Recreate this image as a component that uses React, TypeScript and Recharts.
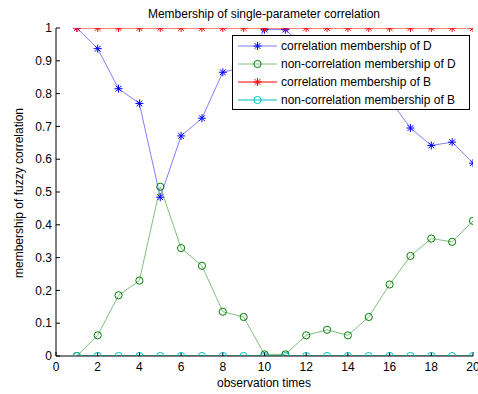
import React from 'react';
import { LineChart, Line, XAxis, YAxis, Legend } from 'recharts';

const observationTimes = [1, 2, 3, 4, 5, 6, 7, 8, 9, 10, 11, 12, 13, 14, 15, 16, 17, 18, 19, 20];
const corrMembershipD = [1, 0.937, 0.815, 0.77, 0.484, 0.671, 0.725, 0.865, 0.881, 0.995, 0.995, 0.937, 0.92, 0.937, 0.881, 0.782, 0.695, 0.642, 0.652, 0.588];
const nonCorrMembershipD = [0, 0.063, 0.185, 0.23, 0.516, 0.329, 0.275, 0.135, 0.119, 0.005, 0.005, 0.063, 0.08, 0.063, 0.119, 0.218, 0.305, 0.358, 0.348, 0.412];
const corrMembershipB = [1, 1, 1, 1, 1, 1, 1, 1, 1, 1, 1, 1, 1, 1, 1, 1, 1, 1, 1, 1];
const nonCorrMembershipB = [0, 0, 0, 0, 0, 0, 0, 0, 0, 0, 0, 0, 0, 0, 0, 0, 0, 0, 0, 0];
const xTicks = [0, 2, 4, 6, 8, 10, 12, 14, 16, 18, 20];
const yTicks = [0, 0.1, 0.2, 0.3, 0.4, 0.5, 0.6, 0.7, 0.8, 0.9, 1];
const seriesNames = [
  'correlation membership of D',
  'non-correlation membership of D',
  'correlation membership of B',
  'non-correlation membership of B',
];

const data = observationTimes.map((t, i) => ({
  t,
  corrD: corrMembershipD[i],
  nonCorrD: nonCorrMembershipD[i],
  corrB: corrMembershipB[i],
  nonCorrB: nonCorrMembershipB[i],
}));

const FONT = '"Liberation Sans", Arial, sans-serif';
const FS = 12;

const styles = [
  { key: 'corrD', line: '#7f7fff', marker: '#0000ff', shape: 'star' },
  { key: 'nonCorrD', line: '#80c080', marker: '#008000', shape: 'circle' },
  { key: 'corrB', line: '#ff0000', marker: '#ff0000', shape: 'star' },
  { key: 'nonCorrB', line: '#00bfbf', marker: '#00bfbf', shape: 'circle' },
];

function Marker({ cx, cy, color, shape }: any) {
  if (cx == null || cy == null) return null;
  if (shape === 'circle') {
    return <circle cx={cx} cy={cy} r={3.6} fill="none" stroke={color} strokeWidth={1} />;
  }
  const s = 4;
  const d = 2.9;
  return (
    <g stroke={color} strokeWidth={1}>
      <line x1={cx - s} y1={cy} x2={cx + s} y2={cy} />
      <line x1={cx} y1={cy - s} x2={cx} y2={cy + s} />
      <line x1={cx - d} y1={cy - d} x2={cx + d} y2={cy + d} />
      <line x1={cx - d} y1={cy + d} x2={cx + d} y2={cy - d} />
    </g>
  );
}

function LegendBox() {
  return (
    <svg width={239} height={76} style={{ display: 'block' }}>
      <rect x={0.5} y={0.5} width={237} height={74} fill="#fff" stroke="#000" strokeWidth={1} />
      {styles.map((s, i) => {
        const y = 11 + i * 18;
        return (
          <g key={s.key}>
            <line x1={6} y1={y} x2={45} y2={y} stroke={s.line} strokeWidth={1} />
            <Marker cx={25.5} cy={y} color={s.marker} shape={s.shape} />
            <text x={49} y={y + 4} fontSize={FS} fontFamily={FONT} fill="#000">
              {seriesNames[i]}
            </text>
          </g>
        );
      })}
    </svg>
  );
}

export default function App() {
  return (
    <div style={{ position: 'absolute', left: 0, top: 0, width: 478, height: 394, background: '#fff', fontFamily: FONT }}>
      <div style={{ position: 'absolute', left: 0, width: 528, top: 7, textAlign: 'center', fontSize: FS, color: '#000' }}>
        Membership of single-parameter correlation
      </div>
      <div style={{ position: 'absolute', left: 0, width: 528, top: 376, textAlign: 'center', fontSize: FS, color: '#000' }}>
        observation times
      </div>
      <div
        style={{
          position: 'absolute',
          left: 19,
          top: 193,
          transform: 'translate(-50%, -50%) rotate(-90deg)',
          whiteSpace: 'nowrap',
          fontSize: FS,
          color: '#000',
        }}
      >
        membership of fuzzy correlation
      </div>
      <LineChart width={478} height={394} data={data} margin={{ top: 28, right: 5, bottom: 0, left: 0 }}>
        <XAxis
          dataKey="t"
          type="number"
          domain={[0, 20]}
          ticks={xTicks}
          height={38}
          tickSize={-4}
          tickMargin={10}
          axisLine={{ stroke: '#000' }}
          tickLine={{ stroke: '#000' }}
          tick={{ fontSize: FS, fill: '#000', fontFamily: FONT }}
          interval={0}
          allowDataOverflow
        />
        <XAxis
          xAxisId="top"
          orientation="top"
          type="number"
          domain={[0, 20]}
          ticks={xTicks}
          height={0}
          tickSize={-4}
          axisLine={{ stroke: '#000' }}
          tickLine={{ stroke: '#000' }}
          tickFormatter={() => ''}
          interval={0}
          allowDataOverflow
        />
        <YAxis
          type="number"
          domain={[0, 1]}
          ticks={yTicks}
          width={56}
          tickSize={-4}
          tickMargin={8}
          axisLine={{ stroke: '#000' }}
          tickLine={{ stroke: '#000' }}
          tick={{ fontSize: FS, fill: '#000', fontFamily: FONT }}
          tickFormatter={(v: number) => String(Number(v.toFixed(1)))}
          interval={0}
          allowDataOverflow
        />
        <YAxis
          yAxisId="right"
          orientation="right"
          type="number"
          domain={[0, 1]}
          ticks={yTicks}
          width={0}
          tickSize={-4}
          axisLine={{ stroke: '#000' }}
          tickLine={{ stroke: '#000' }}
          tickFormatter={() => ''}
          interval={0}
          allowDataOverflow
        />
        {styles.map((s) => (
          <Line
            key={s.key}
            dataKey={s.key}
            type="linear"
            stroke={s.line}
            strokeWidth={1}
            isAnimationActive={false}
            dot={(p: any) => <Marker key={`${s.key}-${p.index}`} cx={p.cx} cy={p.cy} color={s.marker} shape={s.shape} />}
            activeDot={false}
          />
        ))}
        <Legend
          layout="horizontal"
          verticalAlign="middle"
          align="center"
          wrapperStyle={{ position: 'absolute', left: 232, top: 35, width: 239, height: 76 }}
          content={() => <LegendBox />}
        />
      </LineChart>
    </div>
  );
}
